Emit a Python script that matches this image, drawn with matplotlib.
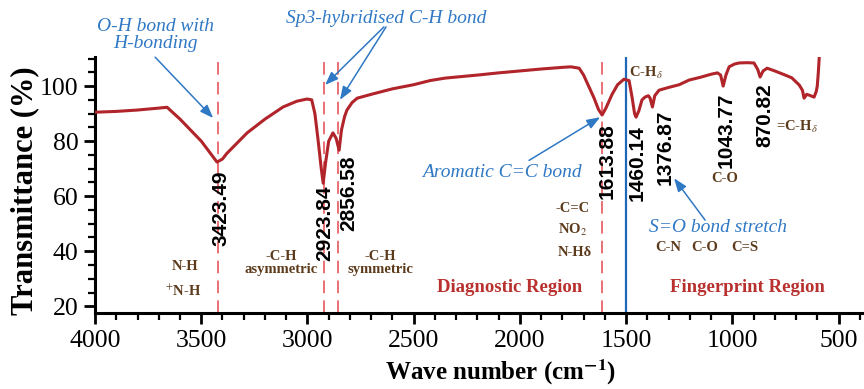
import matplotlib
matplotlib.use("Agg")
import matplotlib.pyplot as plt
from matplotlib.ticker import MultipleLocator

# FTIR spectrum (wave number cm-1, transmittance %)
wave = [4000, 3900, 3800, 3700, 3661, 3600, 3500, 3426, 3400, 3380, 3284, 3200,
        3115, 3050, 3002, 2980, 2965, 2950, 2935, 2926, 2915, 2900, 2880, 2865,
        2851, 2840, 2825, 2814, 2790, 2766, 2700, 2600, 2500, 2423, 2352, 2200,
        2100, 2000, 1900, 1800, 1760, 1721, 1700, 1674, 1650, 1630, 1613, 1595,
        1566, 1540, 1510, 1486, 1472, 1460, 1453, 1440, 1425, 1411, 1395, 1387,
        1376, 1365, 1345, 1300, 1250, 1203, 1150, 1100, 1070, 1055, 1043, 1030,
        1015, 990, 968, 930, 898, 880, 869, 855, 836, 800, 751, 720, 685, 670,
        662, 650, 638, 615, 605, 600, 595, 591]
trans = [90.5, 90.8, 91.3, 92.0, 92.3, 88.0, 80.0, 72.4, 73.5, 75.5, 83.0, 88.0,
         92.4, 94.5, 95.3, 95.0, 90.0, 80.4, 70.0, 64.7, 72.0, 80.0, 83.0, 81.0,
         76.7, 84.0, 89.0, 91.3, 94.0, 95.6, 97.0, 99.0, 100.5, 102.0, 102.9, 104.0,
         104.8, 105.5, 106.2, 106.8, 107.0, 106.5, 104.0, 99.6, 95.5, 91.5, 89.5, 92.0,
         97.0, 100.5, 102.5, 102.0, 96.0, 90.0, 88.7, 91.0, 95.0, 96.0, 96.5, 95.6,
         92.4, 96.5, 98.5, 99.5, 100.5, 102.2, 103.2, 104.3, 104.8, 104.0, 100.0, 104.0,
         107.0, 108.0, 108.4, 108.5, 108.4, 106.0, 103.3, 105.5, 106.5, 105.5, 104.0, 103.0,
         100.4, 98.5, 95.6, 97.0, 96.7, 96.0, 98.0, 100.0, 105.0, 110.0]

peaks = [3423.49, 2923.84, 2856.58, 1613.88, 1460.14, 1376.87, 1043.77, 870.82]
peak_label_x = [3407, 2917, 2804, 1590, 1448, 1316, 1029, 846]
peak_label_top = [69.5, 64.0, 74.9, 86.5, 85.8, 91.3, 97.5, 101.0]
dashed_lines = [3423.49, 2923.84, 2856.58, 1613.88]
region_split = 1500

CURVE = "#b0242a"
BLUE = "#2f78c4"
BROWN = "#5c3a1c"
RED = "#b8312f"
SERIF = "Liberation Serif"

plt.rcParams["mathtext.fontset"] = "stix"
plt.rcParams["font.family"] = SERIF

fig = plt.figure(figsize=(8.64, 3.89), dpi=100)
ax = fig.add_axes([0.110, 0.195, 0.890, 0.658])

for x in dashed_lines:
    ax.axvline(x, color="#e8646a", lw=1.3, ls=(0, (7, 4)), zorder=1)
ax.axvline(region_split, color="#1f68b8", lw=1.6, zorder=1)
ax.plot(wave, trans, color=CURVE, lw=2.2, zorder=3)

ax.set_xlim(4000, 380)
ax.set_ylim(17.5, 110.5)
ax.xaxis.set_major_locator(MultipleLocator(500))
ax.xaxis.set_minor_locator(MultipleLocator(100))
ax.yaxis.set_major_locator(MultipleLocator(20))
ax.yaxis.set_minor_locator(MultipleLocator(5))
for s in ("top", "right"):
    ax.spines[s].set_visible(False)
for s in ("left", "bottom"):
    ax.spines[s].set_linewidth(2.2)
ax.tick_params(which="major", length=8, width=2, labelsize=18.5, pad=4)
ax.tick_params(which="minor", length=5, width=1.6)

ax.set_xlabel("Wave number (cm$^{\\mathbf{-1}}$)", fontsize=18, fontweight="bold")
ax.xaxis.set_label_coords(0.528, -0.175)
ax.set_ylabel("Transmittance (%)", fontsize=22, fontweight="bold", va="center")
ax.yaxis.set_label_coords(-0.091, 0.48)

# peak wave numbers
for lab, x, y in zip(peaks, peak_label_x, peak_label_top):
    ax.text(x, y, f"{lab:.2f}", rotation=90, ha="center", va="top",
            fontsize=15, fontweight="bold", family="Liberation Sans", zorder=4)

# blue annotations with arrows
akw = dict(arrowstyle="-|>,head_length=0.8,head_width=0.3", color=BLUE, lw=1.1,
           shrinkA=0, shrinkB=0)
tkw = dict(color=BLUE, fontsize=14, style="italic", ha="center", va="center")
ax.text(3717, 118.5, "O-H bond with\nH-bonding", linespacing=1.05, clip_on=False, **tkw)
ax.annotate("", xy=(3444, 88.4), xytext=(3717, 110.5), arrowprops=akw, annotation_clip=False)
ax.text(2630, 124.4, "Sp3-hybridised C-H bond", clip_on=False, **tkw)
ax.annotate("", xy=(2917, 100.4), xytext=(2640, 121.5), arrowprops=akw, annotation_clip=False)
ax.annotate("", xy=(2847, 95.0), xytext=(2630, 121.5), arrowprops=akw, annotation_clip=False)
ax.text(2084, 68.7, "Aromatic C=C bond", **tkw)
ax.annotate("", xy=(1622, 88.7), xytext=(1957, 73.0), arrowprops=akw)
ax.text(1067, 48.7, "S=O bond stretch", **tkw)
ax.annotate("", xy=(1274, 66.5), xytext=(1128, 51.3), arrowprops=akw)

# brown functional group notes
bkw = dict(color=BROWN, fontsize=10.5, fontweight="bold", ha="center", va="center")
ax.text(3576, 34.5, "N-H", **bkw)
ax.text(3586, 25.5, "$^{+}$N-H", **bkw)
ax.text(3124, 35.6, "-C-H\nasymmetric", linespacing=1.0, **bkw)
ax.text(2658, 35.6, "-C-H\nsymmetric", linespacing=1.0, **bkw)
ax.text(1754, 55.6, "-C=C", **bkw)
ax.text(1754, 47.6, "NO$_2$", **bkw)
ax.text(1740, 39.6, "N-Hδ", **bkw)
ax.text(1302, 41.5, "C-N", **bkw)
ax.text(1128, 41.5, "C-O", **bkw)
ax.text(940, 41.5, "C=S", **bkw)
ax.text(1034, 66.5, "C-O", **bkw)
ax.text(1486, 104.7, "C-H$_\\delta$", **{**bkw, "ha": "left"})
ax.text(794, 85.0, "=C-H$_\\delta$", **{**bkw, "ha": "left"})

# region names
rkw = dict(color=RED, fontsize=13.5, fontweight="bold", ha="center", va="center")
ax.text(2046, 26.9, "Diagnostic Region", **rkw)
ax.text(930, 26.9, "Fingerprint Region", **rkw)

fig.savefig("out.png", dpi=100)
